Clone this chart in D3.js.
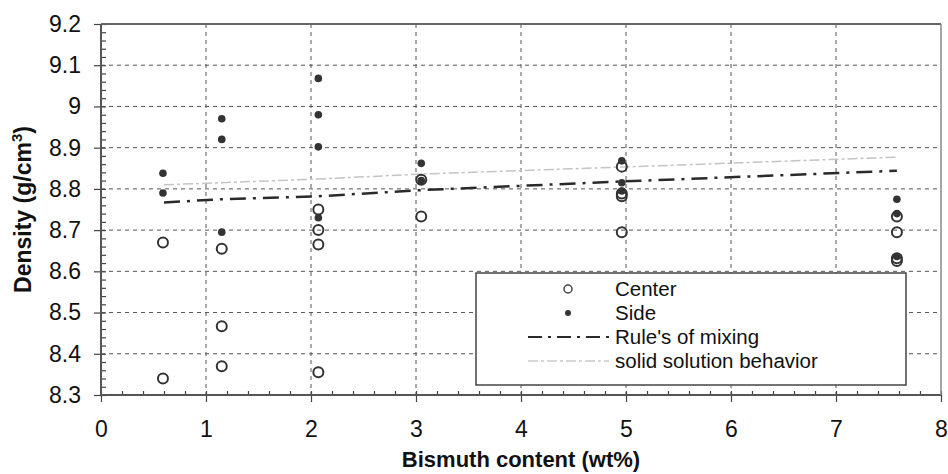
<!DOCTYPE html>
<html>
<head>
<meta charset="utf-8">
<script src="https://cdn.jsdelivr.net/npm/d3@7"></script>
<style>
  body { margin: 0; background: #fff; }
  svg { font-family: "Liberation Sans", Arial, sans-serif; }
  .grid line { stroke: #555; stroke-dasharray: 4,4; stroke-width: 1; }
  .axis path { display: none; }
  .axis line { stroke: #444; stroke-width: 1.2; }
  .axis text { font-size: 23px; fill: #111; }
</style>
</head>
<body>
<div id="chart"></div>
<script>
// Center measurements
const centerBi = [0.59, 0.59, 1.15, 1.15, 1.15, 2.07, 2.07, 2.07, 2.07, 3.05, 3.05, 4.96, 4.96, 4.96, 4.96, 7.58, 7.58, 7.58, 7.58];
const centerDensity = [8.67, 8.34, 8.655, 8.467, 8.37, 8.75, 8.70, 8.665, 8.355, 8.822, 8.733, 8.854, 8.789, 8.782, 8.695, 8.733, 8.695, 8.632, 8.625];

// Side measurements
const sideBi = [0.59, 0.59, 1.15, 1.15, 1.15, 2.07, 2.07, 2.07, 2.07, 3.05, 3.05, 4.96, 4.96, 4.96, 7.58, 7.58, 7.58];
const sideDensity = [8.838, 8.79, 8.97, 8.92, 8.695, 9.068, 8.98, 8.902, 8.73, 8.862, 8.82, 8.868, 8.815, 8.795, 8.775, 8.74, 8.636];

// model curves
const modelBi = [0.6, 1.15, 2.07, 3.05, 4.96, 7.58];
const mixingDensity = [8.767, 8.775, 8.782, 8.797, 8.818, 8.844];
const solidDensity = [8.81, 8.815, 8.824, 8.836, 8.853, 8.877];

const xTicks = [0, 1, 2, 3, 4, 5, 6, 7, 8];
const yTicks = [8.3, 8.4, 8.5, 8.6, 8.7, 8.8, 8.9, 9, 9.1, 9.2];
const legendLabels = ["Center", "Side", "Rule's of mixing", "solid solution behavior"];

const W = 948, H = 474;
const m = { left: 101, right: 7, top: 24, bottom: 79 };
const w = W - m.left - m.right, h = H - m.top - m.bottom;

const svg = d3.select("#chart").append("svg")
  .attr("width", W).attr("height", H);

const x = d3.scaleLinear().domain([0, 8]).range([0, w]);
const y = d3.scaleLinear().domain([8.3, 9.2]).range([h, 0]);

const g = svg.append("g").attr("transform", `translate(${m.left},${m.top})`);

// grid
g.append("g").attr("class", "grid")
  .selectAll("line").data(yTicks.slice(1, -1)).enter().append("line")
  .attr("x1", 0).attr("x2", w).attr("y1", d => y(d)).attr("y2", d => y(d));
g.append("g").attr("class", "grid")
  .selectAll("line").data(xTicks.slice(1, -1)).enter().append("line")
  .attr("y1", 0).attr("y2", h).attr("x1", d => x(d)).attr("x2", d => x(d));

// minor ticks pointing inward
g.append("g").attr("class", "axis")
  .call(d3.axisLeft(y).tickValues(d3.range(8.3, 9.2001, 0.02)).tickSize(-5).tickFormat(""));
g.append("g").attr("class", "axis")
  .attr("transform", `translate(0,${h})`)
  .call(d3.axisBottom(x).tickValues(d3.range(0, 8.001, 0.2)).tickSize(-4).tickFormat(""));

// major axes
g.append("g").attr("class", "axis")
  .call(d3.axisLeft(y).tickValues(yTicks).tickSize(7).tickPadding(13).tickFormat(d => d));
g.append("g").attr("class", "axis")
  .attr("transform", `translate(0,${h})`)
  .call(d3.axisBottom(x).tickValues(xTicks).tickSize(7).tickPadding(19));

// frame
g.append("line").attr("x1", 0).attr("x2", w).attr("y1", 0).attr("y2", 0)
  .attr("stroke", "#666").attr("stroke-width", 2);
g.append("line").attr("x1", 0).attr("x2", w).attr("y1", h).attr("y2", h)
  .attr("stroke", "#555").attr("stroke-width", 2);
g.append("line").attr("x1", 0).attr("x2", 0).attr("y1", 0).attr("y2", h)
  .attr("stroke", "#555").attr("stroke-width", 2);
g.append("line").attr("x1", w).attr("x2", w).attr("y1", 0).attr("y2", h)
  .attr("stroke", "#888").attr("stroke-width", 1.5);

// lines
const line = d3.line().x(d => x(d[0])).y(d => y(d[1]));
g.append("path")
  .datum(modelBi.map((b, i) => [b, solidDensity[i]]))
  .attr("d", line).attr("fill", "none")
  .attr("stroke", "#c4c4c4").attr("stroke-width", 1.5).attr("stroke-dasharray", "10,3,3,3");
g.append("path")
  .datum(modelBi.map((b, i) => [b, mixingDensity[i]]))
  .attr("d", line).attr("fill", "none")
  .attr("stroke", "#2a2a2a").attr("stroke-width", 2.5).attr("stroke-dasharray", "16,7,3,7");

// points
g.append("g").selectAll("circle")
  .data(sideBi.map((b, i) => [b, sideDensity[i]]))
  .enter().append("circle")
  .attr("cx", d => x(d[0])).attr("cy", d => y(d[1])).attr("r", 3.8)
  .attr("fill", "#333");
g.append("g").selectAll("circle")
  .data(centerBi.map((b, i) => [b, centerDensity[i]]))
  .enter().append("circle")
  .attr("cx", d => x(d[0])).attr("cy", d => y(d[1])).attr("r", 5)
  .attr("fill", "none").attr("stroke", "#333").attr("stroke-width", 2);

// axis titles
svg.append("text")
  .attr("x", m.left + w / 2).attr("y", 467)
  .attr("text-anchor", "middle")
  .style("font-size", "22px").style("font-weight", "bold").attr("fill", "#111")
  .text("Bismuth content (wt%)");
const yt = svg.append("text")
  .attr("transform", `translate(31,${m.top + h / 2}) rotate(-90)`)
  .attr("text-anchor", "middle")
  .style("font-size", "23px").style("font-weight", "bold").attr("fill", "#111");
yt.append("tspan").text("Density (g/cm");
yt.append("tspan").attr("dy", -9).style("font-size", "15px").text("3");
yt.append("tspan").attr("dy", 9).text(")");

// legend
const lg = svg.append("g").attr("transform", "translate(476,273)");
lg.append("rect").attr("width", 430).attr("height", 112)
  .attr("fill", "#fff").attr("stroke", "#444").attr("stroke-width", 1.5);
const rowY = [16, 40, 64, 88];
lg.selectAll("text.lbl").data(legendLabels).enter().append("text")
  .attr("class", "lbl")
  .attr("x", 139).attr("y", (d, i) => rowY[i] + 7)
  .style("font-size", "20.5px").attr("fill", "#111")
  .text(d => d);
lg.append("circle").attr("cx", 92).attr("cy", rowY[0]).attr("r", 4)
  .attr("fill", "none").attr("stroke", "#444").attr("stroke-width", 1.5);
lg.append("circle").attr("cx", 92).attr("cy", rowY[1]).attr("r", 3)
  .attr("fill", "#333");
lg.append("line").attr("x1", 52).attr("x2", 133).attr("y1", rowY[2]).attr("y2", rowY[2])
  .attr("stroke", "#2a2a2a").attr("stroke-width", 2).attr("stroke-dasharray", "14,6,3,6");
lg.append("line").attr("x1", 52).attr("x2", 133).attr("y1", rowY[3]).attr("y2", rowY[3])
  .attr("stroke", "#ccc").attr("stroke-width", 1.5).attr("stroke-dasharray", "10,3,3,3");
</script>
</body>
</html>
